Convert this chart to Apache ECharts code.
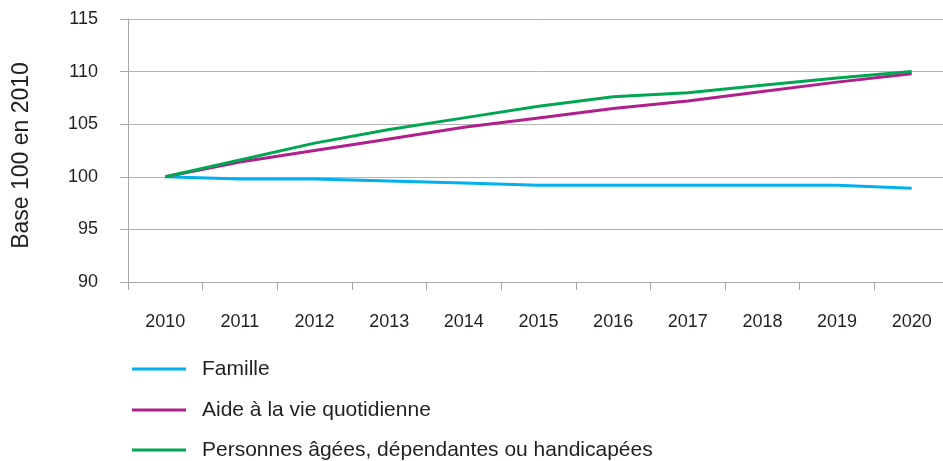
<!DOCTYPE html>
<html><head><meta charset="utf-8">
<script src="https://cdn.jsdelivr.net/npm/echarts@6/dist/echarts.min.js"></script>
<style>html,body{margin:0;padding:0;background:#fff;overflow:hidden}#c{width:949px;height:461px}</style>
</head><body><div id="c"></div>
<script>
const years = ['2010','2011','2012','2013','2014','2015','2016','2017','2018','2019','2020'];
const famille = [100, 99.8, 99.8, 99.6, 99.4, 99.2, 99.2, 99.2, 99.2, 99.2, 98.9];
const aideVie = [100, 101.4, 102.5, 103.6, 104.7, 105.6, 106.5, 107.2, 108.1, 109.0, 109.8];
const personnes = [100, 101.6, 103.2, 104.5, 105.6, 106.7, 107.6, 108.0, 108.7, 109.4, 110.0];
const seriesNames = ['Famille', 'Aide à la vie quotidienne', 'Personnes âgées, dépendantes ou handicapées'];
const colors = ['#00b0f0', '#b01f8c', '#00a651'];
const yTicks = {min: 90, max: 115, interval: 5};

const font = '"Liberation Sans", Arial, sans-serif';
const chart = echarts.init(document.getElementById('c'), null, {renderer: 'canvas'});
const data = [famille, aideVie, personnes];
const legendCenters = [369, 410, 450];
chart.setOption({
  animation: false,
  color: colors,
  textStyle: {fontFamily: font},
  grid: {left: 128, top: 19, right: 0, bottom: 179, containLabel: false},
  legend: seriesNames.map((n, i) => ({
    orient: 'vertical', left: 132, top: legendCenters[i] - 11, padding: 0,
    itemWidth: 54, itemHeight: 3, icon: 'rect',
    textStyle: {fontFamily: font, fontSize: 21, lineHeight: 22, color: '#231f20', padding: [0, 0, 0, 11]},
    data: [n]
  })),
  xAxis: {
    type: 'category', data: years, boundaryGap: true,
    axisLine: {lineStyle: {color: '#a6a6a6', width: 1}},
    axisTick: {show: true, length: 8, lineStyle: {color: '#a6a6a6'}},
    axisLabel: {fontFamily: font, fontSize: 18, color: '#231f20', margin: 31},
    splitLine: {show: false}
  },
  yAxis: {
    type: 'value', min: yTicks.min, max: yTicks.max, interval: yTicks.interval,
    name: 'Base 100 en 2010', nameLocation: 'middle', nameGap: 95, nameRotate: 90,
    nameTextStyle: {fontFamily: font, fontSize: 23, color: '#231f20', padding: [0, 10, 0, 0]},
    axisLine: {show: true, lineStyle: {color: '#a6a6a6', width: 1}},
    axisTick: {show: true, length: 8, lineStyle: {color: '#a6a6a6'}},
    axisLabel: {fontFamily: font, fontSize: 18, color: '#231f20', margin: 30},
    splitLine: {show: true, lineStyle: {color: '#b3b3b3', width: 1}}
  },
  series: seriesNames.map((n, i) => ({
    name: n, type: 'line', data: data[i], symbol: 'none',
    lineStyle: {width: 3, color: colors[i]}, itemStyle: {color: colors[i]}, z: 2 + i
  }))
});
</script></body></html>
